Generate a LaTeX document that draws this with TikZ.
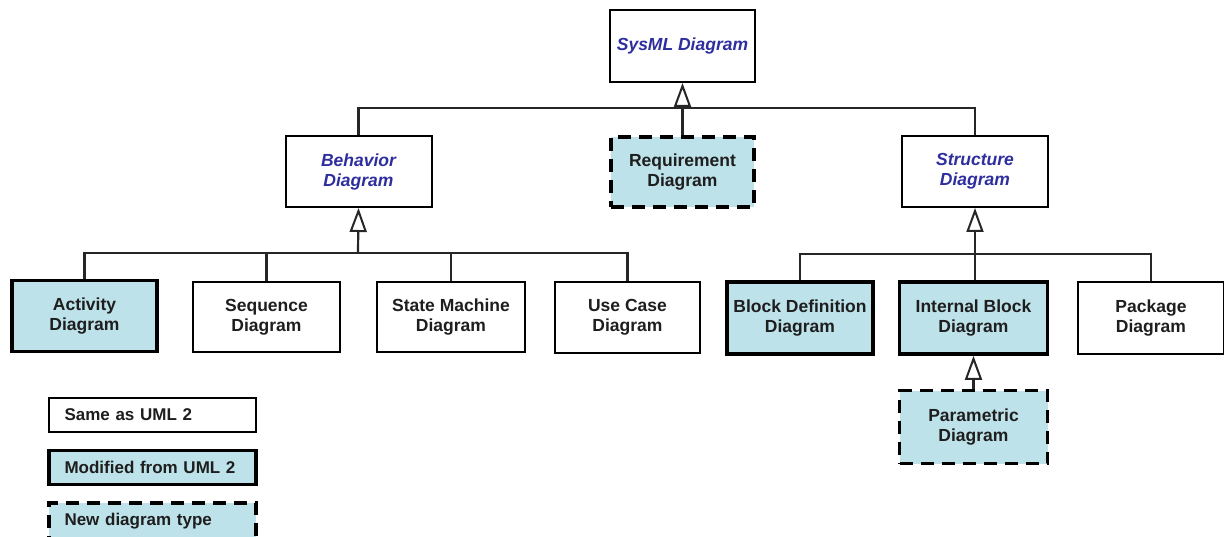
\documentclass[tikz,border=0pt]{standalone}
\usepackage{fontspec}
\setmainfont{Liberation Sans}
\usetikzlibrary{arrows.meta}
\definecolor{boxfill}{HTML}{BEE2EA}
\definecolor{abstracttext}{HTML}{2E2E9E}
\definecolor{inktext}{HTML}{1E1E1E}
\begin{document}
\begin{tikzpicture}[x=1pt,y=-1pt,
  base/.style={rectangle,draw=black,minimum width=146pt,minimum height=71pt,
    align=center,inner sep=0pt,font=\fontsize{17.5}{20}\selectfont\bfseries,text=inktext},
  same/.style={base,line width=2pt,fill=white},
  modified/.style={base,line width=3.6pt,fill=boxfill},
  newtype/.style={base,line width=3.8pt,fill=boxfill,dash pattern=on 13pt off 8pt},
  abstract/.style={same,font=\fontsize{17.5}{20}\selectfont\bfseries\itshape,text=abstracttext},
  legend/.style={rectangle,minimum width=207pt,minimum height=34pt,inner sep=0pt,
    text width=176pt,align=left,font=\fontsize{17}{20}\selectfont\bfseries,text=inktext},
  link/.style={draw=black!85,line width=2.2pt},
  gen/.style={link,-{Triangle[open,length=24pt,width=17pt,line width=2pt]}}
]
\useasboundingbox (0,0) rectangle (1224,537);

% top level
\node[abstract,minimum width=145pt,minimum height=72pt] (sys) at (682.5,46) {SysML Diagram};

% second level
\node[abstract] (beh) at (358.5,171.5) {Behavior\\Diagram};
\node[newtype,minimum width=143pt,minimum height=70pt] (req) at (682.5,172) {Requirement\\Diagram};
\node[abstract] (str) at (975,171.5) {Structure\\Diagram};

% behavior diagrams
\node[modified,minimum width=145pt] (act) at (84.5,316) {Activity\\Diagram};
\node[same,minimum width=147pt,minimum height=70pt] (seq) at (266.5,317) {Sequence\\Diagram};
\node[same,minimum width=148pt,minimum height=70pt] (stm) at (451,317) {State Machine\\Diagram};
\node[same,minimum width=145pt,minimum height=71pt] (uc) at (627.5,317.5) {Use Case\\Diagram};

% structure diagrams
\node[modified,minimum height=72pt] (bdd) at (800,318) {Block Definition\\Diagram};
\node[modified,minimum width=148pt,minimum height=72pt] (ibd) at (973.5,318) {Internal Block\\Diagram};
\node[same,minimum width=146pt,minimum height=72pt] (pkg) at (1151,318.5) {Package\\Diagram};
\node[newtype,minimum width=148pt,minimum height=73pt] (par) at (973.5,427) {Parametric\\Diagram};

% junction points of the generalization trees
\coordinate (topjoin) at (682.5,108);
\coordinate (behjoin) at (358,253);
\coordinate (strjoin) at (975,254);

% SysML Diagram tree
\draw[link] (beh.north) |- (topjoin);
\draw[link] (str.north) |- (topjoin);
\draw[gen,line width=3pt] (req.north) -- (sys.south);

% Behavior Diagram tree
\draw[link] (act.north) |- (behjoin);
\draw[link] (seq.north) |- (behjoin);
\draw[link] (stm.north) |- (behjoin);
\draw[link] (uc.north) |- (behjoin);
\draw[gen] (behjoin) -- (beh.south);

% Structure Diagram tree
\draw[link] (bdd.north) |- (strjoin);
\draw[link] (ibd.north -| strjoin) -- (strjoin);
\draw[link] (pkg.north) |- (strjoin);
\draw[gen] (strjoin) -- (str.south);

% Parametric specializes Internal Block
\draw[gen] (par.north) -- (ibd.south);

% legend
\node[legend,draw=black,line width=2pt,fill=white] (lsame) at (152.5,415) {Same as UML 2};
\node[legend,draw=black,line width=3.6pt,fill=boxfill] (lmod) at (152.5,467.5) {Modified from UML 2};
\node[legend,draw=black,line width=3.8pt,fill=boxfill,dash pattern=on 13pt off 8pt,
  minimum height=36pt] (lnew) at (152.5,521) {New diagram type};
\end{tikzpicture}
\end{document}
